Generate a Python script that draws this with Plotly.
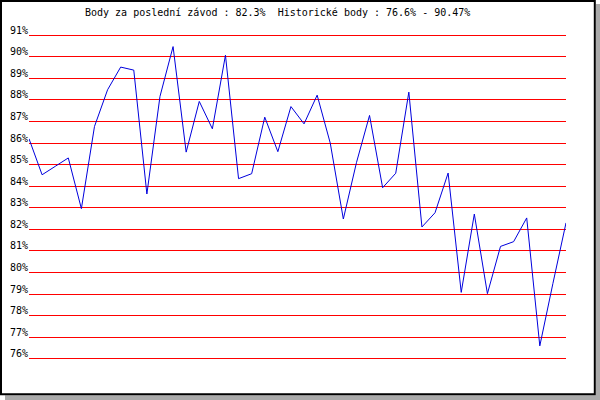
import plotly.graph_objects as go

# ---- data ----
race_index = list(range(42))
points_pct = [86.2, 84.53, 84.92, 85.31, 82.96, 86.77, 88.47, 89.52, 89.38, 83.64,
              88.16, 90.47, 85.58, 87.93, 86.66, 90.07, 84.35, 84.58, 87.2, 85.6,
              87.69, 86.89, 88.22, 86.0, 82.48, 85.09, 87.28, 83.93, 84.6, 88.36,
              82.11, 82.77, 84.61, 79.08, 82.71, 79.02, 81.21, 81.43, 82.53, 76.6,
              79.49, 82.3]
tick_values = list(range(76, 92))
tick_labels = [f"{v}%" for v in tick_values]
title_text = "Body za poslední závod : 82.3%\u00a0\u00a0Historické body : 76.6% - 90.47%"

W, H = 600, 400
L, R, T, B = 29, 34, 33, 39
PW, PH = W - L - R, H - T - B

def px(x):
    return (x - L) / PW

def py(y):
    return 1 - (y - T) / PH

font = dict(family="DejaVu Sans Mono", size=10, color="black")

fig = go.Figure()
fig.add_trace(go.Scatter(x=race_index, y=points_pct, mode="lines",
                         line=dict(color="#0000dd", width=1), hoverinfo="skip"))

shapes = [
    # grey drop shadow (right and bottom strips)
    dict(type="rect", xref="paper", yref="paper", x0=px(596), x1=px(601), y0=py(4), y1=py(401),
         fillcolor="#aaaaaa", line=dict(width=0), layer="above"),
    dict(type="rect", xref="paper", yref="paper", x0=px(5), x1=px(601), y0=py(395.3), y1=py(401),
         fillcolor="#aaaaaa", line=dict(width=0), layer="above"),
    # black frame
    dict(type="rect", xref="paper", yref="paper", x0=px(1), x1=px(594.8), y0=py(1), y1=py(394.3),
         fillcolor="rgba(0,0,0,0)", line=dict(color="black", width=2), layer="above"),
]

annotations = [dict(text=title_text, xref="paper", yref="paper", x=px(83), y=py(13),
                    xanchor="left", yanchor="middle", showarrow=False, font=font)]
for v, lab in zip(tick_values, tick_labels):
    annotations.append(dict(text=lab, xref="paper", yref="y", x=px(7.5), y=v, yshift=5,
                            xanchor="left", yanchor="middle", showarrow=False, font=font))

fig.update_layout(
    width=W, height=H, margin=dict(l=L, r=R, t=T, b=B),
    paper_bgcolor="white", plot_bgcolor="white",
    showlegend=False, shapes=shapes, annotations=annotations,
    xaxis=dict(range=[0, 41], showgrid=False, zeroline=False, showticklabels=False,
               ticks="", showline=False, fixedrange=True),
    yaxis=dict(range=[75.9, 91.1], tickvals=tick_values, showticklabels=False,
               showgrid=True, gridcolor="#ff0000", gridwidth=1, zeroline=False,
               ticks="", showline=False, fixedrange=True),
)

fig.write_html("out.html", config={"displayModeBar": False},
               post_script="document.body.style.margin='0';document.body.style.padding='0';")
